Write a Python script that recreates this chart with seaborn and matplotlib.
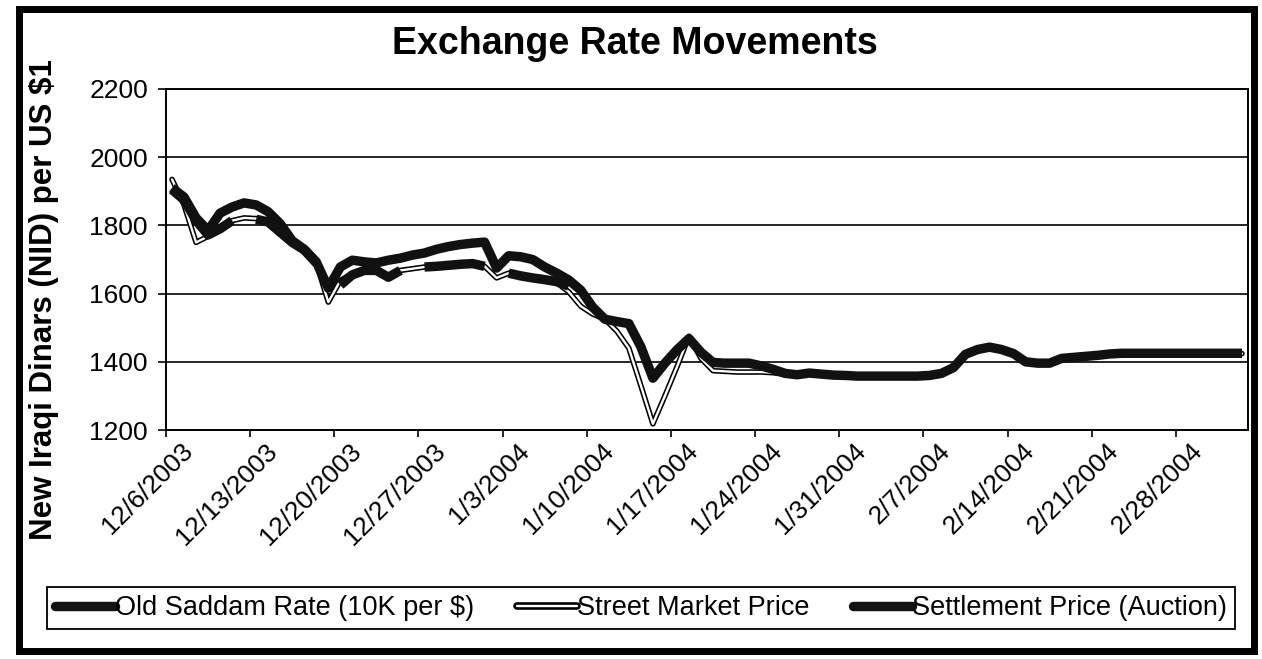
import numpy as np
import pandas as pd
import seaborn as sns
import matplotlib.pyplot as plt
import matplotlib.patheffects as pe
import matplotlib.transforms as mtransforms
from matplotlib.lines import Line2D
from matplotlib.patches import Rectangle

sns.set_theme(style='white')
plt.rcParams['font.family'] = ['Liberation Sans', 'DejaVu Sans']
plt.rcParams['text.color'] = 'black'
plt.rcParams['xtick.color'] = 'black'
plt.rcParams['ytick.color'] = 'black'

nan = np.nan

# one point per day, 12/6/2003 .. 3/4/2004
dates = pd.date_range('2003-12-06', periods=90, freq='D')
tick_labels = ['12/6/2003', '12/13/2003', '12/20/2003', '12/27/2003', '1/3/2004',
               '1/10/2004', '1/17/2004', '1/24/2004', '1/31/2004', '2/7/2004',
               '2/14/2004', '2/21/2004', '2/28/2004']
series_names = ['Old Saddam Rate (10K per $)', 'Street Market Price', 'Settlement Price (Auction)']

old_saddam = [1905, 1875, 1815, 1772, 1790, 1814, nan, 1818, 1810, 1780,
              1750, 1728, 1690, nan, 1625, 1655, 1668, 1668, 1648, 1668,
              nan, 1678, 1680, 1683, 1686, 1688, 1680, nan, 1660, 1652,
              1646, 1641, 1635, 1622, nan, nan, nan, nan, nan, nan,
              nan, nan, nan, nan, nan, nan, nan, nan, nan, nan,
              nan, nan, nan, nan, nan, nan, nan, nan, nan, nan,
              nan, nan, nan, nan, nan, nan, nan, nan, nan, nan,
              nan, nan, nan, nan, nan, nan, nan, nan, nan, nan,
              nan, nan, nan, nan, nan, nan, nan, nan, nan, nan]

street = [1935, 1860, 1750, 1768, 1792, 1814, 1822, 1820, 1810, 1780,
          1750, 1728, 1690, 1575, 1638, 1660, 1670, 1668, 1650, 1668,
          1673, 1678, 1680, 1683, 1686, 1688, 1680, 1646, 1660, 1652,
          1646, 1641, 1632, 1605, 1563, 1540, 1525, 1490, 1440, 1330,
          1218, 1300, 1385, 1475, 1410, 1374, 1372, 1370, 1370, 1370,
          1368, 1363, 1362, 1365, 1364, 1361, 1360, 1358, 1358, 1358,
          1358, 1358, 1358, 1360, 1365, 1380, 1420, 1435, 1442, 1435,
          1422, 1400, 1396, 1396, 1408, 1412, 1415, 1418, 1422, 1424,
          1424, 1424, 1424, 1424, 1424, 1424, 1424, 1424, 1424, 1424]

settlement = [1910, 1883, 1822, 1785, 1836, 1854, 1866, 1860, 1840, 1805,
              1755, 1730, 1693, 1616, 1678, 1698, 1693, 1690, 1698, 1704,
              1713, 1719, 1730, 1738, 1744, 1748, 1751, 1675, 1711, 1708,
              1700, 1678, 1660, 1640, 1610, 1560, 1525, 1518, 1512, 1444,
              1352, 1396, 1435, 1468, 1428, 1398, 1396, 1396, 1396, 1388,
              1378, 1366, 1362, 1367, 1364, 1361, 1360, 1358, 1358, 1358,
              1358, 1358, 1358, 1360, 1366, 1383, 1422, 1436, 1443, 1436,
              1424, 1400, 1396, 1396, 1410, 1413, 1416, 1419, 1423, 1425,
              1425, 1425, 1425, 1425, 1425, 1425, 1425, 1425, 1425, 1425]

df = pd.DataFrame({'pos': np.arange(len(dates)) + 0.5,
                   'old': old_saddam, 'street': street, 'settle': settlement})
# missing days break the old rate line into pieces
df['old_seg'] = df['old'].isna().cumsum()

fig = plt.figure(figsize=(12.62, 6.59), dpi=100)
ax = fig.add_axes([166 / 1262, 1 - 430 / 659, (1248 - 166) / 1262, (430 - 89) / 659])

sns.lineplot(data=df, x='pos', y='street', ax=ax, color='white', lw=1.7,
             legend=False, zorder=2, solid_joinstyle='round',
             path_effects=[pe.Stroke(linewidth=4.0, foreground='black'), pe.Normal()])
sns.lineplot(data=df.dropna(subset=['old']), x='pos', y='old', units='old_seg', estimator=None,
             ax=ax, color='#111111', lw=6.8, legend=False, zorder=3,
             solid_joinstyle='round', solid_capstyle='butt')
sns.lineplot(data=df, x='pos', y='settle', ax=ax, color='#111111', lw=6.8,
             legend=False, zorder=4, solid_joinstyle='round', solid_capstyle='butt')

ax.set_xlim(0, len(dates))
ax.set_ylim(1200, 2200)
ax.set_yticks(range(1200, 2201, 200))
ax.set_xticks(np.arange(0, len(dates), 7))
ax.set_xticklabels(tick_labels, rotation=45, rotation_mode='anchor', ha='right', va='center',
                   fontsize=19)
ax.tick_params(axis='y', labelsize=19, direction='out', length=6, width=1.2, pad=7, left=True)
ax.tick_params(axis='x', direction='out', length=5, width=1.2, pad=7.5, bottom=True)
offset = mtransforms.ScaledTranslation(0.23, 0, fig.dpi_scale_trans)
for lab in ax.get_xticklabels():
    lab.set_transform(lab.get_transform() + offset)

ax.set_xlabel('')
ax.set_ylabel('')
ax.yaxis.grid(True, color='black', lw=1.2)
ax.set_axisbelow(True)
for side in ['left', 'bottom', 'top', 'right']:
    ax.spines[side].set_color('black')
    ax.spines[side].set_linewidth(1.4)
ax.set_facecolor('white')

fig.text(0.503, 0.933, 'Exchange Rate Movements', fontsize=27, fontweight='bold',
         ha='center', va='center', color='black')
fig.text(44 / 1262, 1 - 300 / 659, 'New Iraqi Dinars (NID) per US $1', fontsize=22.5,
         fontweight='bold', rotation=90, ha='center', va='center', color='black')

handles = [
    Line2D([], [], color='#111111', lw=6.8),
    Line2D([], [], color='white', lw=1.7,
           path_effects=[pe.Stroke(linewidth=5.5, foreground='black'), pe.Normal()]),
    Line2D([], [], color='#111111', lw=6.8),
]
leg = fig.legend(handles, series_names, loc='center', bbox_to_anchor=(641 / 1262, 1 - 608 / 659),
                 ncol=3, fontsize=19.5, frameon=True, fancybox=False, edgecolor='black',
                 framealpha=1, handlelength=2.2, handletextpad=0.0, columnspacing=1.6,
                 borderpad=0.28)
leg.get_frame().set_linewidth(1.3)
for t in leg.get_texts():
    t.set_color('black')

fig.patches.append(Rectangle((18.5 / 1262, 1 - 651 / 659), (1254 - 18.5) / 1262, (651 - 8.5) / 659,
                             transform=fig.transFigure, fill=False, lw=5, ec='black'))

fig.savefig('out.png', dpi=100)
